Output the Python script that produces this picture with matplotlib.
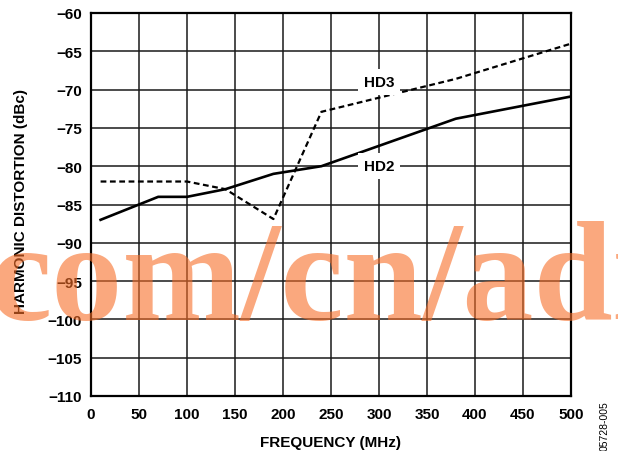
import numpy as np
import matplotlib
matplotlib.use("Agg")
import matplotlib.pyplot as plt

# data (frequency in MHz, distortion in dBc)
freq = [10, 70, 100, 140, 190, 240, 380, 500]
hd2 = [-87, -84, -84, -83, -81, -80, -73.8, -70.9]
hd3 = [-82, -82, -82, -83, -86.9, -72.9, -68.6, -64]
xticks = np.arange(0, 501, 50)
yticks = np.arange(-110, -59, 5)

plt.rcParams['font.family'] = ['Liberation Sans', 'DejaVu Sans']
plt.rcParams['font.weight'] = 'bold'

fig = plt.figure(figsize=(6.18, 4.52), dpi=100)
ax = fig.add_axes([91 / 618, 1 - 397 / 452, 480 / 618, 383 / 452])

ax.plot(freq, hd2, color='black', lw=1.9, solid_joinstyle='round', zorder=3)
l3, = ax.plot(freq, hd3, color='black', lw=1.6, zorder=3)
l3.set_dashes([2.6, 1.6])

ax.set_xlim(0, 500)
ax.set_ylim(-110, -60)
ax.set_xticks(xticks)
ax.set_yticks(yticks)
ax.grid(True, color='#1a1a1a', lw=1.1)
ax.set_axisbelow(True)
ax.tick_params(length=0, labelsize=11, pad=6.5)
ax.tick_params(axis='x', pad=8)
for s in ax.spines.values():
    s.set_linewidth(1.6)

ax.set_xlabel('FREQUENCY (MHz)', fontsize=11, fontweight='bold')
ax.xaxis.set_label_coords(0.5, -0.102)
ax.set_ylabel('HARMONIC DISTORTION (dBc)', fontsize=11, fontweight='bold')
ax.yaxis.set_label_coords(-0.131, 0.51)

box = dict(boxstyle='square,pad=0.4', fc='white', ec='none')
ax.text(300, -69.0, 'HD3', ha='center', va='center', fontsize=11,
        fontweight='bold', bbox=box, zorder=4)
ax.text(300, -80.0, 'HD2', ha='center', va='center', fontsize=11,
        fontweight='bold', bbox=box, zorder=4)

fig.text(605 / 618, 1 - 401 / 452, '05728-005', rotation=90, ha='center',
         va='top', fontsize=7.5, fontweight='normal')

# watermark on top of everything
fig.text(-12 / 618, 1 - 320 / 452, 'com/cn/adi', family='Liberation Serif',
         fontweight='bold', fontsize=102.5, color='#F76E28', alpha=0.6,
         ha='left', va='baseline', zorder=10)

fig.savefig('out.png', dpi=100)
